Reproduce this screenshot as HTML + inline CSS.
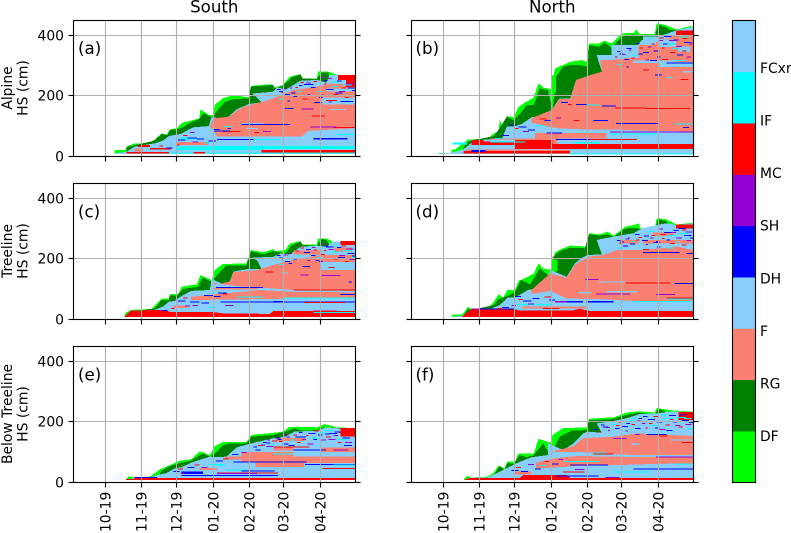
<!DOCTYPE html>
<html lang="en">
<head>
<meta charset="utf-8">
<title>Snow grain type profiles</title>
<style>
html,body{margin:0;padding:0;background:#fff}
svg{display:block}
text{font-family:"DejaVu Sans","Liberation Sans",sans-serif;fill:#000}
</style>
</head>
<body>
<svg id="fig" xmlns="http://www.w3.org/2000/svg" width="791" height="533" viewBox="0 0 791 533">
<rect width="791" height="533" fill="#fff"/>
<g id="plots"></g>
<text x="214.3" y="12.5" font-size="16.67" text-anchor="middle">South</text>
<text x="552.3" y="12.5" font-size="16.67" text-anchor="middle">North</text>
<g font-size="13.89" text-anchor="middle">
<text transform="translate(12,88) rotate(-90)">Alpine</text>
<text transform="translate(27.5,88) rotate(-90)">HS (cm)</text>
<text transform="translate(12,251) rotate(-90)">Treeline</text>
<text transform="translate(27.5,251) rotate(-90)">HS (cm)</text>
<text transform="translate(12,414) rotate(-90)">Below Treeline</text>
<text transform="translate(27.5,414) rotate(-90)">HS (cm)</text>
</g>
<g font-size="16.67">
<text x="78" y="54">(a)</text>
<text x="415.5" y="54">(b)</text>
<text x="78" y="217.5">(c)</text>
<text x="415.5" y="217.5">(d)</text>
<text x="78" y="380.5">(e)</text>
<text x="415.5" y="380.5">(f)</text>
</g>
<g id="cbar"></g>
</svg>
<script>
const LIME=0,GREEN=1,PINK=2,SKY=3,BLUE=4,VIOLET=5,RED=6,CYAN=7,SKYTOP=8;
const grainColors=['#00ff00','#008000','#fa8072','#87cefa','#0000ff','#9400d3','#ff0000','#00ffff','#87cefa'];
const grainLabels=['DF','RG','F','DH','SH','MC','IF','FCxr'];
const xTickDays=[0,31,61,92,123,152,183];
const xTickLabels=['10-19','11-19','12-19','01-20','02-20','03-20','04-20'];
const yTickValues=[0,200,400];

const layersA=[
[LIME,[[8,7],[8,20],[17,20],[18,31],[25,42],[38,42],[42,55],[48,75],[52,70],[55,88],[61,92],[65,110],[75,119],[80,125],[81,155],[88,136],[92,135],[93,169],[100,191],[109,202],[122,194],[124,232],[141,238],[144,227],[151,235],[157,263],[166,271],[168,257],[180,257],[181,279],[190,279],[198,268],[213,268],[213,7]]],
[GREEN,[[18,7],[18,29],[25,36],[42,51],[48,73],[53,70],[55,86],[61,88],[67,97],[71,108],[79,121],[84,141],[90,130],[92,130],[95,150],[102,180],[109,188],[122,191],[124,230],[143,235],[144,224],[151,232],[159,261],[166,270],[168,257],[180,255],[184,276],[190,276],[191,252],[213,252],[213,7]]],
[SKY,[[8,7],[8,9],[18,14],[25,31],[42,42],[49,51],[54,66],[59,70],[64,73],[75,95],[88,99],[90.5,130],[96,125],[103,125],[112,155],[122,172],[133,178],[129,194],[125,207],[143,213],[146,227],[154,221],[166,249],[180,252],[188,243],[191,268],[213,268],[213,7]]],
[PINK,[[92,125],[105,130],[112,150],[119,165],[134.5,180],[146,196],[160,218],[183,232],[203,248],[213,250],[213,92],[173,83],[167,64],[95,64],[92.5,86],[89,97]]]
];
const bandsA=[
[SKY,185,213,170,194],[SKY,188,213,213,224],[SKY,166,180,232,246],[SKY,194,206,238,250],[RED,198,213,252,268],[RED,205,213,228,252],
[CYAN,52,213,8,12],[RED,18,54,8,14],[RED,75,85,8,13],[RED,133,213,12,20],[CYAN,89,213,23,33],[CYAN,60,133,20,31],[RED,38,56,21,26],[RED,28,38,29,36],[PINK,25,32,14,25],
[BLUE,177,206,54,60],[CYAN,64,78,55,62],[BLUE,95,126,54,57],[CYAN,126,149,54,57],[CYAN,197,213,70,73],[RED,194,213,94,96],[VIOLET,174,197,95,97],[BLUE,116,157,104,106],[SKY,116,134,106,110],[BLUE,153,160,157,159],[RED,176,187,132,134],[VIOLET,167,177,156,158],[SKY,191,205,152,155],[BLUE,200,211,180,182],[RED,188,197,184,186],[RED,100,115,81,83],[BLUE,92,106,83,85],[VIOLET,134,141,80,82],[RED,127,131,77,79],[SKY,120,130,90,93],[PINK,60,88,36,46]
];
const specksA=[[4,146,3,222],[6,150,2,212],[4,153,4,205],[5,157,2,226],[4,160,3,198],[7,163,4,215],[6,166,3,245],[4,169,5,238],[5,172,2,205],[4,175,4,228],[6,177,3,248],[7,180,5,216],[4,182,3,196],[5,184,3,262],[6,186,2,240],[4,188,6,222],[7,192,6,232],[6,194,4,205],[4,197,4,250],[5,199,5,216],[7,202,8,236],[6,204,3,196],[4,206,6,226],[5,208,4,202],[7,148,3,190],[4,155,2,183],[6,168,4,190],[4,178,6,178],[5,190,3,180],[4,62,6,55],[6,66,4,70],[4,70,8,62],[5,74,5,48],[4,78,6,58],[7,84,5,44],[4,88,6,52],[5,72,4,80],[6,60,3,38],[4,52,5,28],[6,46,3,34],[4,92,5,90],[7,100,8,100],[4,104,3,92],[4,148,4,216],[5,151,3,224],[4,158,4,210],[6,162,2,228],[4,165,3,235],[5,171,4,244],[4,174,3,238],[6,183,3,204],[4,186,3,252],[5,189,4,258],[7,193,5,246],[4,196,6,210],[6,201,4,226],[5,205,6,240],[4,210,3,218]];

const layersB=[
[LIME,[[-4,7],[-4,11],[0,9],[7,9],[7,22],[10,22],[13,31],[17,42],[21,55],[24,55],[38,58],[43,75],[47,81],[48,119],[51,97],[54.5,132],[60,128],[64,163],[69.5,177],[77,194],[81,241],[85,227],[92,221],[95,290],[102,301],[108,312],[118,318],[122,312],[124,373],[133,373],[137,382],[143,373],[145,379],[152,406],[162,408],[164.5,419],[167,404],[180,404],[181.5,439],[189,434],[198.5,419],[210,430],[213,428],[213,7]]],
[GREEN,[[17,7],[17,30],[21,47],[24,51],[43,66],[48,92],[54,130],[60,119],[67,147],[71,169],[77,169],[82,224],[89,218],[93,150],[96,263],[102,296],[108,301],[116,301],[123,296],[124,367],[133,362],[137,376],[143,360],[152,395],[162,403],[167,399],[180,399],[183,434],[189,428],[193,417],[213,417],[213,7]]],
[LIME,[[92,230],[96,205],[96,260],[92,270]]],
[SKY,[[-4,7],[-4,8],[7,11],[17,22],[24,44],[38,51],[50,58],[54,97],[60,97],[67,106],[75,128],[88,136],[92,152],[99,191],[108,191],[113,252],[125,268],[135,279],[130.5,334],[145,334],[152,356],[163,356],[169,384],[181.5,395],[190,404],[198.5,417],[213,428],[213,7]]],
[PINK,[[75,125],[92,152],[99,188],[108,188],[113,252],[125,268],[135,279],[133,328],[144.6,322],[153,321],[159,351],[167,367],[181.5,377],[198,400],[213,405],[213,81],[167,84],[145,88],[119,88],[96,92],[75,110]]],
[PINK,[[17,8],[20,22],[108,22],[108,8]]],
[PINK,[[40,58],[97,58],[97,40],[60,40],[40,45]]]
];
const bandsB=[
[SKY,143,166,325,367],[SKY,133,147,318,335],[SKY,184,213,295,311],[SKY,170,181,367,395],[SKY,184,198,360,385],[SKY,200,210,345,362],[SKY,162,198,308,316],
[PINK,78,139,58,76],[RED,61,213,23,39],[RED,24,93,36,53],[RED,17,108,8,17],[SKY,34,61,48,54],[CYAN,112,133,41,46],[BLUE,96,125,54,56],[RED,125,165,54,56],[CYAN,142,184,72,74],[VIOLET,142,213,79,81],[BLUE,88,101,76,78],[SKY,70,96,78,94],[SKY,96,135,78,84],[BLUE,147,183,108,110],[BLUE,128,140,117,119],[RED,111,116,118,120],[BLUE,204,209,94,96],[CYAN,197,213,105,107],[BLUE,135,147,165,167],[BLUE,113,122,171,173],[RED,146,172,158,160],[RED,172,210,157,159],[CYAN,122,133,168,170],[BLUE,190,213,308,310],[SKY,204,213,276,282],[RED,198,213,400,415],[CYAN,8,20,38,44],[BLUE,24,36,14,20],[CYAN,40,70,44,48],[CYAN,108,213,7,9]
];
const specksB=[[4,150,3,340],[6,146,2,330],[4,154,4,322],[5,158,2,352],[7,161,4,335],[4,164,3,375],[6,167,3,360],[4,170,5,345],[5,172,3,320],[7,175,4,392],[6,177,3,372],[4,179,5,350],[4,182,3,330],[5,184,3,384],[6,186,2,360],[4,188,6,398],[7,191,7,372],[6,193,4,345],[4,196,4,385],[5,198,5,365],[7,201,8,395],[6,203,4,350],[4,205,6,378],[5,207,4,330],[7,148,4,304],[4,156,2,296],[6,170,5,286],[4,180,6,270],[7,190,5,262],[6,202,6,255],[4,56,6,105],[6,60,4,92],[4,64,7,98],[5,68,5,82],[4,72,6,88],[7,78,8,102],[6,82,6,124],[4,86,5,120],[5,96,4,128],[4,100,6,178],[6,106,3,172],[7,44,5,60],[4,50,6,70],[4,148,3,348],[5,152,3,338],[4,156,4,358],[6,160,3,326],[4,166,4,340],[5,174,3,362],[4,178,4,400],[6,183,5,392],[4,187,4,372],[5,192,6,384],[7,195,6,358],[4,199,5,336],[6,204,4,390],[5,209,4,372],[4,176,6,318],[6,186,5,322],[7,196,10,318]];

const layersC=[
[LIME,[[16,7],[17.5,22],[22,30],[39,33],[42,44],[48,68],[54,68],[55,82],[62,82],[65,107],[78,115],[81,146],[84,140],[90.5,129],[93,162],[100,182],[120,184],[124,228],[135,221],[143,232],[144,225],[153,228],[157,250],[166,258],[168,247],[180,247],[181,267],[188,267],[198,250],[211,258],[213,258],[213,7]]],
[GREEN,[[18,7],[18,15],[22,24],[42,35],[48,63],[54,63],[55,77],[61,77],[66,99],[79,107],[83,137],[90.5,124],[98,157],[103,177],[120,177],[124,225],[135,214],[143,225],[153,217],[159,245],[166,256],[168,245],[180,243],[184,265],[188,262],[191,245],[213,245],[213,7]]],
[SKY,[[16,7],[22,13],[39,30],[42,30],[49,41],[54,57],[59,60],[64,74],[73,93],[89,96],[90.5,132],[102,113],[106,126],[109,157],[122,166],[133,166],[129,195],[125,203],[143,206],[149,217],[157,214],[166,239],[180,243],[188,239],[193,256],[213,258],[213,7]]],
[PINK,[[106,124],[109,155],[129,162],[143,179],[160,195],[183,212],[213,212],[213,93],[160,96],[132,104],[112,109],[92,118],[92,112]]],
[PINK,[[73,74],[132,96],[160,90],[213,88],[213,71],[160,68],[134,66],[73,63]]],
[RED,[[16,7],[22,28],[50,30],[55,24],[90,24],[100,19],[140,17],[143,26],[213,26],[213,7]]]
];
const bandsC=[
[SKY,183,213,162,188],[PINK,160,184,214,226],[PINK,195,210,224,236],[CYAN,177,213,22,24],[RED,177,197,26,28],[BLUE,98,213,56,58],[BLUE,143,152,54,60],[RED,170,204,54,56],[CYAN,152,213,68,71],[RED,160,213,95,97],[CYAN,112,134,73,75],[BLUE,200,213,80,82],[BLUE,94,134,104,106],[VIOLET,166,173,145,147],[VIOLET,184,200,144,146],[RED,136,143,156,158],[SKY,150,156,150,154],[BLUE,207,210,122,124],[SKY,193,200,170,176],[VIOLET,102,109,43,46],[RED,200,213,245,258],[CYAN,210,213,200,208],[PINK,58,70,36,44],[PINK,92,130,98,102]
];
const specksC=[[4,146,3,212],[6,150,2,200],[4,153,4,192],[5,157,2,218],[4,160,3,200],[7,163,4,210],[6,166,3,236],[4,169,5,222],[5,172,2,196],[4,175,4,212],[6,177,3,230],[7,180,5,205],[4,182,3,192],[5,184,3,250],[6,186,2,228],[4,188,6,240],[7,192,6,224],[6,194,4,200],[4,197,4,238],[5,199,5,212],[7,202,8,228],[6,204,3,192],[4,206,6,218],[5,208,4,198],[7,148,3,182],[4,168,6,176],[6,190,5,172],[4,62,6,62],[6,66,4,72],[4,72,8,58],[5,74,5,46],[4,82,6,54],[7,88,5,40],[4,92,6,76],[5,68,4,44],[6,56,3,36],[4,48,5,30],[4,96,7,88],[6,100,4,84],[4,84,8,80],[4,148,4,204],[5,152,3,214],[4,156,3,186],[6,162,3,226],[4,171,4,232],[5,176,3,238],[4,179,3,196],[6,183,4,216],[4,187,3,244],[5,190,4,232],[7,195,4,246],[4,198,6,206],[6,201,4,244],[5,205,6,234],[4,210,3,210]];

const layersD=[
[LIME,[[7,7],[8,15],[16,15],[18,24],[21,41],[24,33],[38,35],[43,57],[47,82],[51,71],[54.5,96],[61,96],[64,126],[69.5,135],[77,151],[81,184],[85,168],[92,162],[95,221],[102,234],[108,243],[122,240],[124,284],[133,280],[140,289],[145,276],[155,306],[162,311],[166,317],[168,300],[180,302],[181.5,333],[189,331],[198.5,313],[213,319],[213,7]]],
[GREEN,[[18,7],[18,15],[21,33],[24,30],[43,46],[47,66],[55,77],[61,90],[66,129],[74,115],[82,168],[91,140],[92,200],[99,225],[108,236],[120.5,234],[124,280],[133,276],[140,280],[145,272],[155,300],[162,302],[168,298],[180,300],[183,330],[189,325],[193,311],[213,311],[213,7]]],
[LIME,[[92,146],[97,160],[97,195],[92,200]]],
[SKY,[[7,7],[17,11],[24,30],[38,30],[48,46],[55,71],[61,71],[72,96],[88,107],[91,162],[105,140],[112,184],[118,203],[123,212],[135,214],[130.5,262],[145,273],[162,284],[169,300],[181.5,311],[190,317],[198.5,311],[213,317],[213,7]]],
[PINK,[[75,96],[91,151],[105,137],[112,179],[123,206],[136,212],[147.5,228],[170,228],[198.5,240],[213,228],[213,60],[162,60],[133,66],[105,68],[91,93],[75,82]]],
[RED,[[16,7],[18,15],[24,33],[60,33],[65,28],[110,28],[116,34],[125,26],[213,26],[213,7]]]
];
const bandsD=[
[PINK,170,213,250,262],[PINK,150,166,250,262],[PINK,178,196,274,286],[PINK,67,122,35,42],[VIOLET,24,31,31,34],[BLUE,31,60,31,34],[BLUE,122,145,54,60],[BLUE,105,119,54,60],[VIOLET,95,105,54,60],[CYAN,162,213,58,60],[RED,190,213,69,71],[CYAN,190,213,66,68],[VIOLET,181,197,81,83],[VIOLET,130,159,83,85],[RED,155,193,119,121],[BLUE,197,213,117,119],[SKY,115,126,85,90],[SKY,139,165,88,92],[SKY,132,155,122,125],[VIOLET,121,132,130,132],[BLUE,170,201,220,222],[BLUE,207,213,215,219],[RED,198,213,300,313],[RED,85,99,34,36],[SKY,204,213,238,246],[CYAN,62,92,46,49]
];
const specksD=[[4,148,3,262],[6,150,2,252],[4,153,4,244],[5,157,2,270],[7,160,3,258],[4,163,4,282],[6,166,3,272],[4,169,5,262],[5,172,2,248],[7,175,4,292],[6,177,3,278],[4,179,5,255],[4,182,3,240],[5,184,3,300],[6,186,2,268],[4,188,6,288],[7,191,7,278],[6,193,4,252],[4,196,4,295],[5,198,5,270],[7,201,8,284],[6,203,4,246],[4,205,6,278],[5,207,4,262],[7,148,4,236],[6,170,5,232],[7,190,6,236],[4,60,6,76],[6,64,4,66],[4,68,7,62],[5,72,5,52],[4,76,6,70],[7,82,8,48],[6,86,6,74],[4,90,5,64],[5,58,4,46],[4,50,6,40],[6,46,4,36],[4,151,3,256],[5,155,3,266],[4,159,4,250],[6,164,3,264],[4,171,4,276],[5,176,3,270],[4,181,3,258],[6,185,4,282],[4,190,3,264],[5,194,4,288],[7,197,4,256],[4,200,6,302],[6,203,4,296],[5,206,6,290],[4,210,3,270]];

const layersE=[
[LIME,[[17.5,7],[19.6,18],[22,18],[25,15],[38,18],[42,29],[46.5,42],[55,56],[63.5,71],[73,75],[80.5,102],[89,89],[93,119],[100,132],[120,132],[124.5,156],[143,163],[151.5,167],[156,181],[164,183],[180,181],[187,192],[197,181],[213,178],[213,7]]],
[GREEN,[[46.5,7],[46.5,31],[49,40],[55,53],[65,64],[73,71],[83,95],[89,84],[95,100],[100,122],[106,128],[120,128],[124.5,150],[143,156],[153,167],[161,178],[167,170],[180,172],[185.5,181],[213,176],[213,7]]],
[SKY,[[17.5,7],[25,13],[38,15],[44,23],[52,29],[59,45],[65,49],[73,64],[89,84],[95,82],[103,84],[112,115],[124.5,128],[143,145],[153,150],[161,167],[180,170],[188,181],[197,178],[213,172],[213,7]]]
];
const bandsE=[
[PINK,116,160,68,100],[PINK,160,213,62,85],[PINK,128,169,49,64],[PINK,184,213,100,115],[PINK,143,160,105,115],[PINK,102,116,75,85],[PINK,145,170,135,145],
[RED,25,213,7,14],[RED,17.5,25,7,10],[BLUE,25,44,14,16],[BLUE,65,83,27,35],[BLUE,65,147,22,24],[RED,95,147,30,32],[VIOLET,95,129,28,30],[BLUE,116,144,36,38],[RED,185,213,43,46],[BLUE,170,213,57,59],[BLUE,109,171,66,68],[CYAN,92,102,55,60],[CYAN,194,213,56,58],[RED,143,174,116,118],[CYAN,143,160,92,94],[VIOLET,194,207,104,108],[BLUE,160,188,105,107],[RED,200,213,150,178],[VIOLET,137,143,117,120],[CYAN,104,120,39,41],[PINK,80,95,40,46]
];
const specksE=[[4,126,3,118],[6,130,4,122],[4,134,3,132],[5,138,2,140],[7,141,3,125],[4,145,4,148],[6,148,3,136],[4,151,5,128],[5,154,3,150],[7,157,4,140],[6,160,3,158],[4,162,5,150],[4,165,3,165],[5,168,3,142],[6,171,2,155],[4,173,6,162],[7,176,5,148],[6,178,4,170],[4,181,4,158],[5,183,5,140],[7,186,8,172],[6,188,4,150],[4,191,6,163],[5,194,4,155],[7,197,8,142],[6,199,4,165],[4,202,6,148],[5,204,6,133],[4,58,5,36],[6,62,4,44],[5,64,4,30],[4,70,6,50],[6,76,4,58],[5,82,5,50],[7,88,4,60],[4,94,6,72],[6,100,5,78],[4,108,5,92],[5,116,4,100],[4,128,4,108],[5,133,3,124],[4,137,3,130],[6,142,4,138],[4,147,3,142],[5,152,3,158],[4,156,5,122],[6,163,3,132],[4,167,4,150],[5,172,5,128],[4,177,3,142],[7,182,5,165],[4,187,4,160],[5,190,6,142],[4,195,5,168],[6,198,3,132],[4,203,7,122]];

const layersF=[
[LIME,[[17.5,7],[18.5,15],[21,21],[23,15],[38,18],[43,31],[47,55],[52,45],[54.5,68],[61,68],[64,95],[77,95],[81,143],[91,130],[93,156],[102,178],[111,178],[113.5,181],[122,181],[124,209],[142,214],[145,214],[156,230],[166,234],[180,230],[181.5,245],[193,238],[213,232],[213,7]]],
[GREEN,[[43,7],[43,23],[48,53],[52,40],[55,64],[60,60],[65,89],[71,82],[77,89],[85,128],[91,89],[95,119],[99,150],[109,170],[122,172],[124,205],[142,207],[156,222],[166,230],[180,222],[183,242],[188,236],[193,222],[213,222],[213,7]]],
[SKY,[[17.5,7],[24,15],[38,15],[48,34],[61,60],[75,82],[89,89],[89,128],[102,106],[111,128],[119,161],[123,167],[135,163],[130.5,194],[142,200],[156,211],[167,225],[181.5,227],[193,233],[213,232],[213,7]]],
[PINK,[[92,100],[111,119],[119,145],[145,150],[165,161],[213,152],[213,89],[167,89],[145,92],[113.5,100]]],
[PINK,[[79,64],[94,78],[113.5,86],[145,84],[181.5,82],[213,82],[213,62],[181.5,60],[147.5,56],[116,53],[79,45]]],
[RED,[[17.5,7],[23,14],[65,14],[68,23],[105,23],[108,14],[213,14],[213,7]]]
];
const bandsF=[
[PINK,60,75,25,35],[BLUE,96,132,19,21],[RED,102,120,33,35],[VIOLET,112,120,41,43],[BLUE,162,213,43,45],[CYAN,145,176,32,35],[CYAN,198,213,60,62],[BLUE,108,140,55,58],[CYAN,102,133,68,70],[VIOLET,181,213,82,84],[RED,128,145,92,94],[CYAN,128,139,95,97],[VIOLET,145,156,144,146],[BLUE,173,190,157,159],[RED,184,191,152,154],[SKY,160,167,123,127],[SKY,193,213,137,141],[VIOLET,163,167,155,159],[RED,203,213,130,132],[RED,200,213,205,232],[SKY,198,213,178,190],[VIOLET,138,150,14,16]
];
const specksF=[[4,128,3,176],[6,132,2,168],[4,136,4,184],[5,140,2,172],[7,143,3,192],[4,146,4,178],[6,149,3,200],[4,152,5,186],[5,155,2,170],[7,158,4,205],[6,160,3,192],[4,163,5,178],[4,166,3,212],[5,169,3,196],[6,172,2,180],[4,174,6,208],[7,177,5,188],[6,179,4,218],[4,182,4,200],[5,184,5,176],[7,187,8,212],[6,189,4,190],[4,192,6,222],[5,195,4,200],[7,198,8,216],[6,200,4,184],[4,203,6,206],[5,206,5,192],[7,208,5,178],[4,58,6,40],[6,62,4,50],[4,66,6,36],[5,72,5,60],[4,78,5,44],[7,82,6,56],[6,86,4,70],[4,92,6,62],[5,98,4,76],[4,134,3,190],[5,138,4,182],[6,147,3,188],[4,156,3,196],[7,161,4,212],[5,165,3,204],[4,170,4,218],[6,175,3,196],[4,180,4,180],[7,185,5,224],[4,190,5,172],[6,193,3,208],[5,197,5,188],[4,201,6,224],[7,205,6,212],[4,209,4,198]];

const SVGNS='http://www.w3.org/2000/svg';
const xScale=(d,col)=>105.3+col*338+d*1.175;
const yScale=(cm,row)=>[156,319,482][row]-cm*0.302;
const plots=document.getElementById('plots');
const cbar=document.getElementById('cbar');

function mk(tag,parent){
  const el=document.createElementNS(SVGNS,tag);
  parent.appendChild(el);
  return el;
}
function line(parent,x1,y1,x2,y2,color,w){
  const l=mk('line',parent);
  l.setAttribute('x1',x1);
  l.setAttribute('y1',y1);
  l.setAttribute('x2',x2);
  l.setAttribute('y2',y2);
  l.setAttribute('stroke',color);
  l.setAttribute('stroke-width',w);
  return l;
}
function drawPanel(row,col,layers,bands,specks){
  const g=mk('g',plots);
  
  
  const left=73.5+col*338, right=355.5+col*338, bottom=yScale(0,row)+0.5, top=bottom-136;
  const heat=mk('g',g);
  heat.setAttribute('shape-rendering','crispEdges');
  
  
  layers.forEach(layer=>{
    const p=mk('polygon',heat);
    p.setAttribute('points',layer[1].map(pt=>xScale(pt[0],col).toFixed(1)+','+yScale(pt[1],row).toFixed(1)).join(' '));
    p.setAttribute('fill',grainColors[layer[0]]);
    
    
  });
  bands.forEach(b=>{
    const r=mk('rect',heat);
    r.setAttribute('x',xScale(b[1],col).toFixed(1));
    r.setAttribute('width',((b[2]-b[1])*1.175).toFixed(1));
    r.setAttribute('y',yScale(b[4],row).toFixed(1));
    r.setAttribute('height',Math.max(1,(b[4]-b[3])*0.302).toFixed(1));
    r.setAttribute('fill',grainColors[b[0]]);
    
    
  });
  specks.forEach(s=>{
    const r=mk('rect',heat);
    r.setAttribute('x',xScale(s[1],col).toFixed(1));
    r.setAttribute('width',(s[2]*1.175).toFixed(1));
    r.setAttribute('y',yScale(s[3],row).toFixed(1));
    r.setAttribute('height',1);
    r.setAttribute('fill',grainColors[s[0]]);
    
    
  });
  xTickDays.forEach((d,i)=>{
    const x=Math.round(xScale(d,col)-0.5)+0.5;
    const gl=line(g,x,top,x,bottom,'#b0b0b0',1.11);
    
    
    const t=line(g,x,bottom,x,bottom+5,'#000',1.11);
    
    
    if(row===2){
      const lab=mk('text',g);
      lab.setAttribute('transform','translate('+(x+5)+',491.7) rotate(-90)');
      lab.setAttribute('font-size','13.89');
      lab.setAttribute('text-anchor','end');
      lab.textContent=xTickLabels[i];
      
      
    }
  });
  yTickValues.forEach(v=>{
    const y=Math.round(yScale(v,row)-0.5)+0.5;
    if(v>0){
      const gl=line(g,left,y,right,y,'#b0b0b0',1.11);
      
      
    }
    const t1=line(g,left-5,y,left,y,'#000',1.11);
    
    
    const t2=line(g,right,y,right+5,y,'#000',1.11);
    
    
    if(col===0){
      const lab=mk('text',g);
      lab.setAttribute('x',64);
      lab.setAttribute('y',y+5);
      lab.setAttribute('font-size','13.89');
      lab.setAttribute('text-anchor','end');
      lab.textContent=v;
      
      
    }
  });
  const f=mk('rect',g);
  f.setAttribute('x',left);
  f.setAttribute('y',top);
  f.setAttribute('width',right-left);
  f.setAttribute('height',bottom-top);
  f.setAttribute('fill','none');
  f.setAttribute('stroke','#000');
  f.setAttribute('stroke-width',1.11);
  
  
}
drawPanel(0,0,layersA,bandsA,specksA);
drawPanel(0,1,layersB,bandsB,specksB);
drawPanel(1,0,layersC,bandsC,specksC);
drawPanel(1,1,layersD,bandsD,specksD);
drawPanel(2,0,layersE,bandsE,specksE);
drawPanel(2,1,layersF,bandsF,specksF);

const cbTop=20.5,cbBottom=482.5,cbStep=(cbBottom-cbTop)/grainColors.length;
grainColors.forEach((c,i)=>{
  const r=mk('rect',cbar);
  r.setAttribute('x',732.5);
  r.setAttribute('y',(cbBottom-(i+1)*cbStep).toFixed(2));
  r.setAttribute('width',23);
  r.setAttribute('height',(cbStep+0.3).toFixed(2));
  r.setAttribute('fill',c);
  
  
});
const cbFrame=mk('rect',cbar);
cbFrame.setAttribute('x',732.5);
cbFrame.setAttribute('y',cbTop);
cbFrame.setAttribute('width',23);
cbFrame.setAttribute('height',cbBottom-cbTop);
cbFrame.setAttribute('fill','none');
cbFrame.setAttribute('stroke','#000');
cbFrame.setAttribute('stroke-width',1.11);


grainLabels.forEach((name,i)=>{
  const t=mk('text',cbar);
  t.setAttribute('x',760);
  t.setAttribute('y',(441-i*52.57).toFixed(1));
  t.setAttribute('font-size','13.89');
  t.textContent=name;
  
  
});
</script>
</body>
</html>
